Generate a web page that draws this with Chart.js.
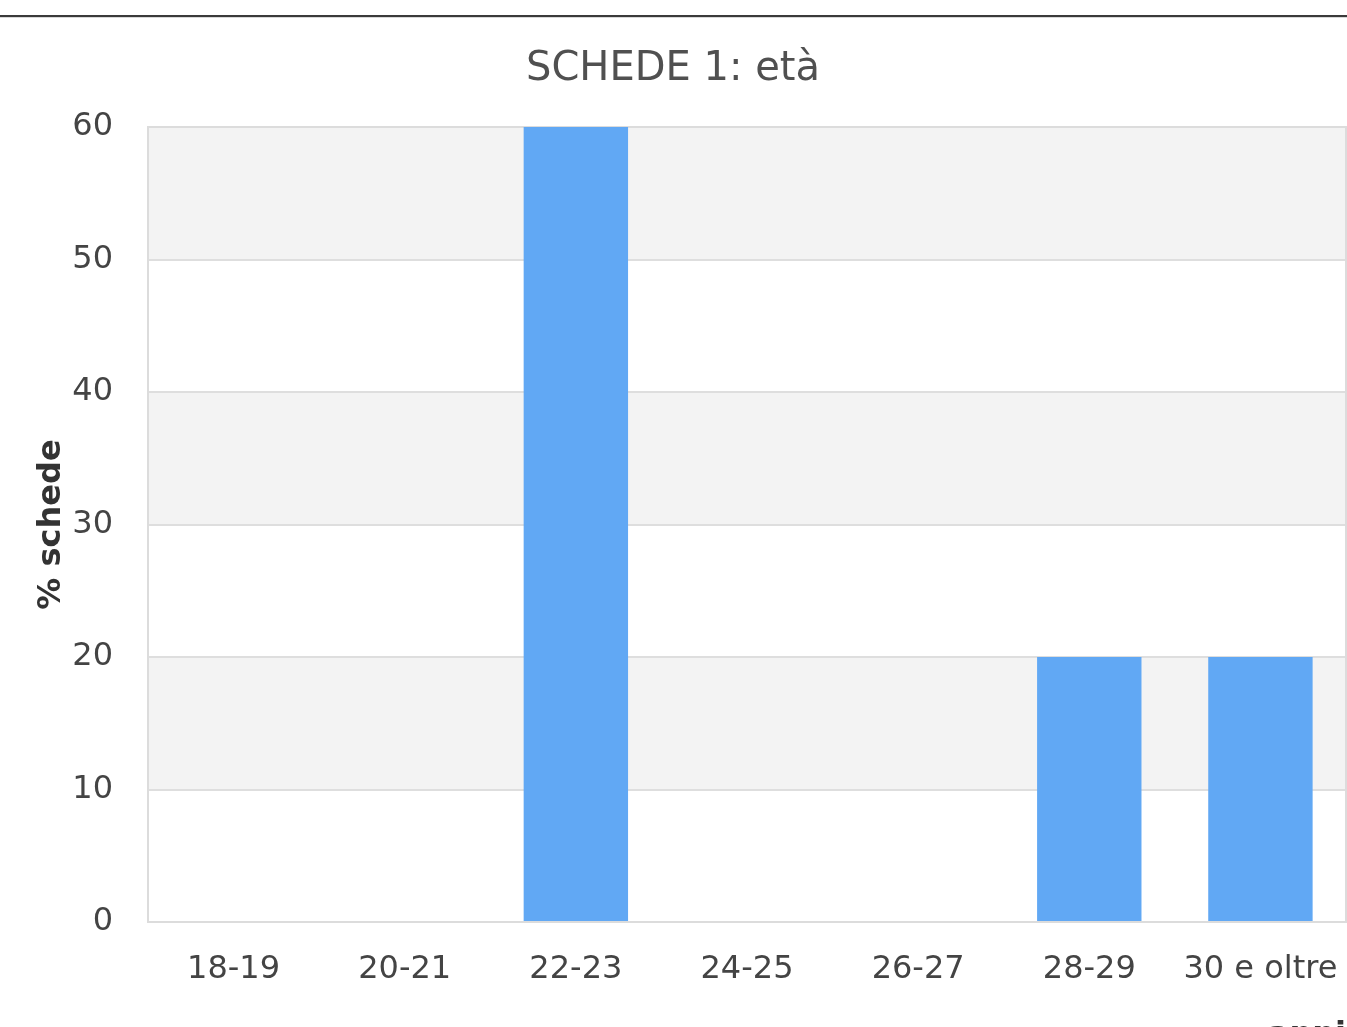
<!DOCTYPE html>
<html>
<head>
<meta charset="utf-8">
<script src="https://cdn.jsdelivr.net/npm/chart.js@4/dist/chart.umd.min.js"></script>
<style>
  html, body { margin: 0; padding: 0; background: #fff; overflow: hidden; }
  #wrap { position: relative; width: 1347px; height: 1060px; }
  #rule { position: absolute; left: 0; top: 15px; width: 1347px; height: 0; border-top: 2px solid #3a3a3a; border-bottom: 1px solid #d8d8d8; }
  canvas { position: absolute; left: 0; top: 0; }
</style>
</head>
<body>
<div id="wrap">
  <canvas id="c" width="1347" height="1060"></canvas>
  <div id="rule"></div>
</div>
<script>
const categories = ['18-19', '20-21', '22-23', '24-25', '26-27', '28-29', '30 e oltre'];
const percentages = [0, 0, 60, 0, 0, 20, 20];
const yTicks = [0, 10, 20, 30, 40, 50, 60];
const chartTitle = 'SCHEDE 1: età';
const yTitle = '% schede';
const xTitle = 'anni';

const FONT = "'DejaVu Sans', sans-serif";

const bandPlugin = {
  id: 'bands',
  beforeDraw(chart) {
    const { ctx, chartArea: a, scales: { y } } = chart;
    ctx.save();
    ctx.fillStyle = '#fff';
    ctx.fillRect(a.left, a.top, a.right - a.left, a.bottom - a.top);
    ctx.fillStyle = '#f3f3f3';
    for (let i = 0; i < yTicks.length - 1; i++) {
      if (i % 2 === 1) {
        const t = y.getPixelForValue(yTicks[i + 1]);
        const b = y.getPixelForValue(yTicks[i]);
        ctx.fillRect(a.left, t, a.right - a.left, b - t);
      }
    }
    ctx.restore();
  },
  beforeDatasetsDraw(chart) {
    const { ctx, chartArea: a } = chart;
    ctx.save();
    ctx.strokeStyle = '#dcdcdc';
    ctx.lineWidth = 2;
    ctx.strokeRect(a.left, a.top, a.right - a.left, a.bottom - a.top);
    ctx.restore();
  }
};

new Chart(document.getElementById('c'), {
  type: 'bar',
  data: {
    labels: categories,
    datasets: [{
      data: percentages,
      backgroundColor: '#61a8f4',
      borderWidth: 0,
      categoryPercentage: 1,
      barPercentage: 0.61
    }]
  },
  options: {
    responsive: false,
    animation: false,
    layout: { padding: { left: 0, right: 1, top: 0, bottom: 0 } },
    plugins: {
      legend: { display: false },
      tooltip: { enabled: false },
      title: {
        display: true,
        text: chartTitle,
        color: '#505050',
        font: { family: FONT, size: 40, weight: 'normal', lineHeight: 1.2 },
        padding: { top: 46, bottom: 33 }
      }
    },
    scales: {
      x: {
        grid: { display: false, drawTicks: false },
        border: { display: true, color: '#dcdcdc', width: 2 },
        ticks: { color: '#444', font: { family: FONT, size: 32 }, padding: 28, maxRotation: 0, autoSkip: false },
        title: {
          display: true, text: xTitle, align: 'end', color: '#333',
          font: { family: FONT, size: 32, weight: 'bold', lineHeight: 1.2 },
          padding: { top: 0, bottom: 5 }
        },
        afterFit(s) { s.height = 1060 - 922; s.paddingLeft = 0; s.paddingRight = 0; }
      },
      y: {
        min: 0, max: 60,
        afterBuildTicks(s) { s.ticks = yTicks.map(v => ({ value: v })); },
        grid: { color: '#dedede', lineWidth: 2, drawTicks: false },
        border: { display: true, color: '#dcdcdc', width: 2 },
        ticks: { color: '#444', font: { family: FONT, size: 32 }, padding: 35 },
        title: {
          display: true, text: yTitle, color: '#333',
          font: { family: FONT, size: 32, weight: 'bold', lineHeight: 1.2 },
          padding: { top: 32, bottom: 0 }
        },
        afterFit(s) { s.width = 148; s.paddingTop = 0; s.paddingBottom = 0; }
      }
    }
  },
  plugins: [bandPlugin]
});
</script>
</body>
</html>
